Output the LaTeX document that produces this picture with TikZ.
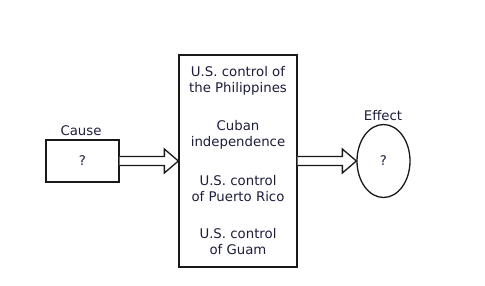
\documentclass[tikz,border=0pt]{standalone}
\usepackage{fontspec}
\setmainfont{DejaVu Sans}
\usetikzlibrary{calc,shapes.geometric}
\definecolor{txt}{RGB}{30,30,60}
\definecolor{ln}{RGB}{25,25,25}
\tikzset{
  box/.style={draw=ln, line width=1.3pt, fill=white, inner sep=0pt},
  lbl/.style={text=txt, font=\fontsize{13.3}{16}\selectfont, align=center, inner sep=0pt},
  fatarrow/.style={draw=ln, line width=1.3pt, fill=white, line join=miter},
}
\begin{document}
\begin{tikzpicture}[x=1pt,y=-1pt]
\useasboundingbox (0,0) rectangle (485,286);
\node[box, minimum width=73pt, minimum height=42pt] (cause) at (82.5,161) {};
\node[lbl] (q1) at (cause.center) {?};
\node[lbl, anchor=base] (causelbl) at (81,136) {Cause};
\node[box, minimum width=118pt, minimum height=212pt] (mid) at (238,161) {};
\node[lbl] (t1) at (238,81) {U.S. control of\\the Philippines};
\node[lbl] (t2) at (238,134.5) {Cuban\\independence};
\node[lbl] (t3) at (238,188.5) {U.S. control\\of Puerto Rico};
\node[lbl] (t4) at (238,241.5) {U.S. control\\of Guam};
\node[box, ellipse, minimum width=53pt, minimum height=73pt] (effect) at (383.5,161) {};
\node[lbl] (q2) at (effect.center) {?};
\node[lbl, anchor=base] (efflbl) at (383,121) {Effect};
\draw[fatarrow] ($(cause.east)+(0,-4.5)$) -- ($(mid.west)+(-14,-4.5)$) -- ($(mid.west)+(-14,-12)$) -- (mid.west) -- ($(mid.west)+(-14,12)$) -- ($(mid.west)+(-14,4.5)$) -- ($(cause.east)+(0,4.5)$);
\draw[fatarrow] ($(mid.east)+(0,-4.5)$) -- ($(effect.west)+(-14,-4.5)$) -- ($(effect.west)+(-14,-12)$) -- (effect.west) -- ($(effect.west)+(-14,12)$) -- ($(effect.west)+(-14,4.5)$) -- ($(mid.east)+(0,4.5)$);
\end{tikzpicture}
\end{document}
